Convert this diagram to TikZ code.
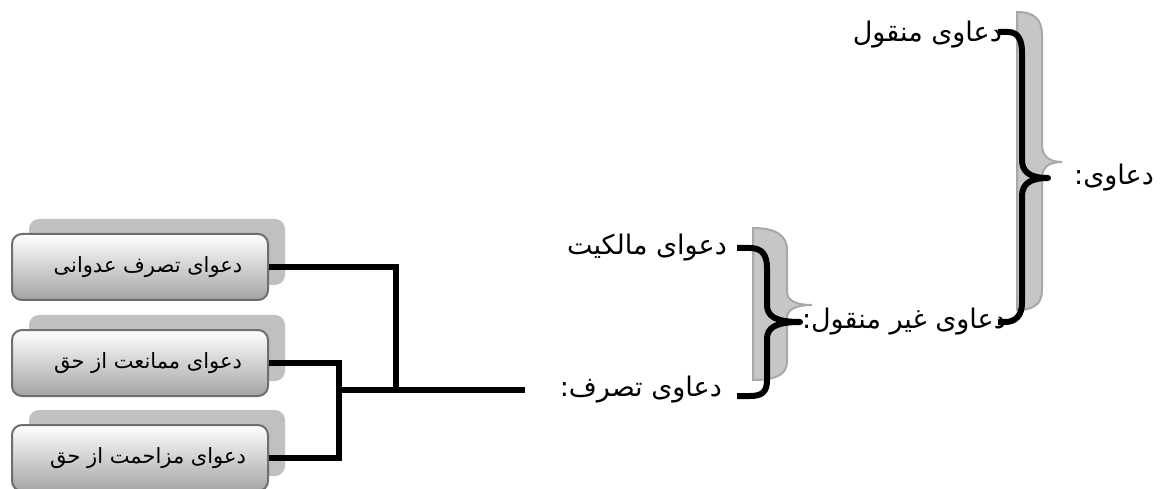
\documentclass[tikz,border=0pt]{standalone}
\usepackage{fontspec}
\newfontfamily\arabicfont[Script=Arabic]{DejaVu Sans}
\TeXXeTstate=1
\definecolor{shadowgray}{HTML}{C0C0C0}
\definecolor{boxline}{HTML}{6E6E6E}
\definecolor{boxbot}{HTML}{A4A4A4}
\definecolor{bracegray}{HTML}{C6C6C6}
\definecolor{braceedge}{HTML}{A8A8A8}
\begin{document}
\begin{tikzpicture}[x=1pt,y=1pt,
  shadowbox/.style={fill=shadowgray, rounded corners=10pt},
  itembox/.style={draw=boxline, line width=2pt, rounded corners=10pt,
    top color=white, bottom color=boxbot, minimum width=256pt,
    minimum height=66pt, inner sep=0pt, font=\arabicfont\fontsize{21}{24}\selectfont},
  label/.style={inner sep=0pt, font=\arabicfont\fontsize{27}{30}\selectfont},
  conn/.style={line width=6pt, line join=miter},
  blackbrace/.style={line width=6pt, line join=round},
  graybrace/.style={fill=bracegray, draw=braceedge, line width=2pt}]
\useasboundingbox (0,0) rectangle (1168,488);
% shadows
\fill[shadowgray, rounded corners=10pt] (29,269) rectangle (285,203);
\fill[shadowgray, rounded corners=10pt] (29,173) rectangle (285,107);
\fill[shadowgray, rounded corners=10pt] (29,78) rectangle (285,12);
% boxes
\node[itembox] (b1) at (140,221) {\hspace{16pt}\raisebox{-5pt}{\beginR دعوای تصرف عدوانی\endR}};
\node[itembox] (b2) at (140,125) {\hspace{16pt}\beginR دعوای ممانعت از حق\endR};
\node[itembox] (b3) at (140,30) {\hspace{16pt}\beginR دعوای مزاحمت از حق\endR};
% junctions
\coordinate (ja) at (396,221);
\coordinate (jb) at (396,98);
\coordinate (jc) at (339,125);
\coordinate (jd) at (339,30);
\coordinate (je) at (339,98);
\coordinate (tend) at (525,98);
\draw[conn] (b1.east) -- (ja) -- (jb);
\draw[conn] (b2.east) -- (jc) -- (jd) -- (b3.east);
\draw[conn] (je) -- (tend);
% labels
\node[label, anchor=east] (malek) at (727,240) {\beginR دعوای مالکیت\endR};
\node[label, anchor=east] (tasar) at (722,98) {\beginR دعاوی تصرف:\endR};
\node[label, anchor=east] (gheir) at (1006,166) {\beginR دعاوی غیر منقول:\endR};
\node[label, anchor=east] (manq) at (1002,453) {\beginR دعاوی منقول\endR};
\node[label, anchor=east] (davi) at (1154,310) {\beginR دعاوی:\endR};
% middle brace
\draw[graybrace] (753,260) .. controls (775,260) and (787,253) .. (787,238) -- (787,196)
  .. controls (787,188) and (795,183) .. (812,183) .. controls (795,183) and (787,178) .. (787,170)
  -- (787,126) .. controls (787,113) and (775,108) .. (753,108) -- cycle;
\draw[blackbrace] (737,240) -- (750,240) .. controls (762,240) and (767,233) .. (767,220) -- (767,183)
  .. controls (767,172) and (775,166) .. (800,166) .. controls (775,166) and (767,160) .. (767,149)
  -- (767,108) .. controls (767,96) and (762,92) .. (750,92) -- (737,92);
% big brace
\draw[graybrace] (1017,476) .. controls (1035,476) and (1042,468) .. (1042,453) -- (1042,343)
  .. controls (1042,333) and (1048,326) .. (1062,326) .. controls (1048,326) and (1042,320) .. (1042,310)
  -- (1042,198) .. controls (1042,185) and (1035,178) .. (1017,178) -- cycle;
\draw[blackbrace] (998,456) -- (1008,456) .. controls (1018,456) and (1022,448) .. (1022,436) -- (1022,328)
  .. controls (1022,316) and (1030,310) .. (1048,310) .. controls (1030,310) and (1022,304) .. (1022,292)
  -- (1022,185) .. controls (1022,172) and (1015,166) .. (1005,166) -- (998,166);
\end{tikzpicture}
\end{document}
